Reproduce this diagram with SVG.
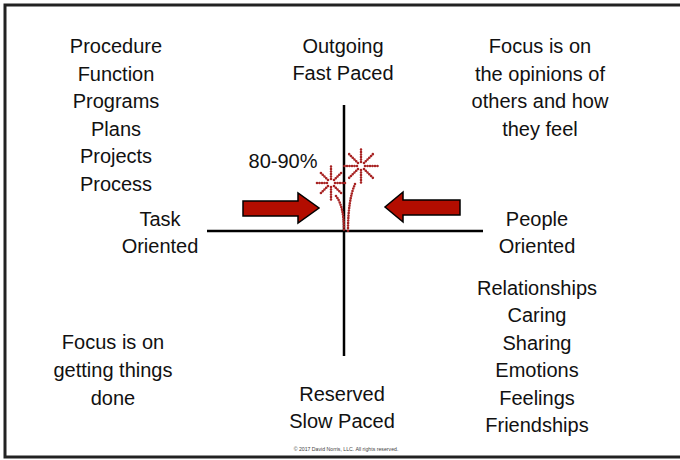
<svg xmlns="http://www.w3.org/2000/svg" width="680" height="460" viewBox="0 0 680 460">
  <style>
    .t { font-family: "Liberation Sans", Arial, sans-serif; font-size: 20px; fill: #111; text-anchor: middle; }
    .axis { stroke: #000; stroke-width: 2.5; fill: none; }
    .arrow { fill: #b30d00; stroke: #000; stroke-width: 1.5; stroke-linejoin: miter; }
    .spark { stroke: #a82424; stroke-width: 2.6; stroke-linecap: round; stroke-dasharray: 0 2.5; fill: none; }
    .copy { font-family: "Liberation Sans", Arial, sans-serif; font-size: 5.2px; fill: #444; text-anchor: middle; }
  </style>

  <rect x="0" y="0" width="680" height="460" fill="#fff"/>
  <!-- frame -->
  <rect x="5" y="5" width="680" height="452" fill="none" stroke="#222" stroke-width="3"/>

  <!-- axes and arrows -->
  <g id="connectors">
    <line class="axis" x1="207" y1="231" x2="483" y2="231"/>
    <line class="axis" x1="344" y1="105" x2="344" y2="356"/>
    <path id="arrow-left" class="arrow" d="M243,201 L298,201 L298,193 L319,208 L298,223 L298,216 L243,216 Z"/>
    <path id="arrow-right" class="arrow" d="M460,200 L403,200 L403,192 L385,207 L403,222 L403,215 L460,215 Z"/>
  </g>

  <!-- fireworks -->
  <g id="fireworks">
    <path class="spark" d="M336,196 Q344,206 344,231"/>
    <path class="spark" d="M355,184 Q348,200 348,231"/>
    <g transform="translate(331,183)">
      <path class="spark" d="M0,-4 V-17 M0,4 V17 M-4,0 H-16 M4,0 H16 M3,-3 L11,-11 M-3,-3 L-11,-11 M3,3 L11,11 M-3,3 L-11,11"/>
    </g>
    <g transform="translate(361,166)">
      <path class="spark" d="M0,-4 V-18 M0,4 V18 M-4,0 H-17 M4,0 H17 M3,-3 L12,-12 M-3,-3 L-12,-12 M3,3 L12,12 M-3,3 L-12,12"/>
    </g>
  </g>

  <g id="task-list">
    <text class="t" x="116" y="53">Procedure</text>
    <text class="t" x="116" y="80.5">Function</text>
    <text class="t" x="116" y="108">Programs</text>
    <text class="t" x="116" y="135.5">Plans</text>
    <text class="t" x="116" y="163">Projects</text>
    <text class="t" x="116" y="190.5">Process</text>
  </g>

  <g id="outgoing">
    <text class="t" x="343" y="53">Outgoing</text>
    <text class="t" x="343" y="80">Fast Paced</text>
  </g>

  <g id="focus-others">
    <text class="t" x="540" y="53">Focus is on</text>
    <text class="t" x="540" y="81">the opinions of</text>
    <text class="t" x="540" y="108">others and how</text>
    <text class="t" x="540" y="136">they feel</text>
  </g>

  <g id="percent">
    <text class="t" x="283" y="168">80-90%</text>
  </g>

  <g id="task-oriented">
    <text class="t" x="160" y="226">Task</text>
    <text class="t" x="160" y="253">Oriented</text>
  </g>

  <g id="people-oriented">
    <text class="t" x="537" y="226">People</text>
    <text class="t" x="537" y="253">Oriented</text>
  </g>

  <g id="people-list">
    <text class="t" x="537" y="295">Relationships</text>
    <text class="t" x="537" y="322">Caring</text>
    <text class="t" x="537" y="350">Sharing</text>
    <text class="t" x="537" y="377">Emotions</text>
    <text class="t" x="537" y="405">Feelings</text>
    <text class="t" x="537" y="432">Friendships</text>
  </g>

  <g id="focus-done">
    <text class="t" x="113" y="349">Focus is on</text>
    <text class="t" x="113" y="377">getting things</text>
    <text class="t" x="113" y="405">done</text>
  </g>

  <g id="reserved">
    <text class="t" x="342" y="401">Reserved</text>
    <text class="t" x="342" y="428">Slow Paced</text>
  </g>

  <text class="copy" x="346" y="451">© 2017 David Norris, LLC. All rights reserved.</text>
</svg>
